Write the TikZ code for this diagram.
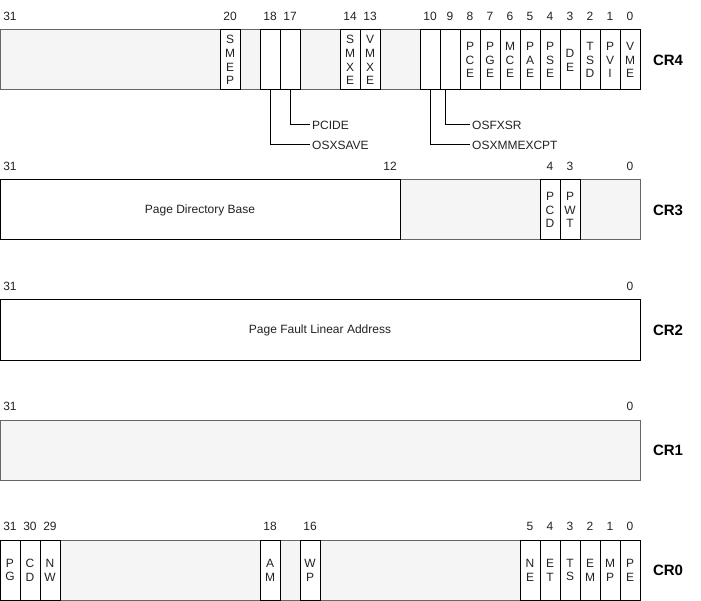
\documentclass[tikz,border=0pt]{standalone}
\usepackage{fontspec}
\setmainfont{Liberation Sans}
\definecolor{bgfill}{HTML}{F5F5F5}
\definecolor{bgline}{HTML}{666666}
\definecolor{txt}{HTML}{222222}
\tikzset{
  reg/.style={draw=bgline, fill=bgfill, line width=1pt, minimum height=60pt, inner sep=0pt, outer sep=0pt, anchor=north west, rectangle},
  wreg/.style={draw=black, fill=white, line width=1pt, minimum height=60pt, inner sep=0pt, outer sep=0pt, anchor=north west, rectangle, text=txt, font=\fontsize{12}{14}\selectfont},
  bitcell/.style={draw=black, fill=white, line width=1pt, minimum width=20pt, minimum height=60pt, inner sep=0pt, outer sep=0pt, anchor=north west, align=center, text=txt, font=\fontsize{12}{13.8}\selectfont},
  bitnum/.style={font=\fontsize{12}{14}\selectfont, inner sep=0pt, text=txt},
  crlabel/.style={font=\bfseries\fontsize{15}{17}\selectfont, inner sep=0pt},
  flaglabel/.style={font=\fontsize{12}{14}\selectfont, anchor=west, inner sep=0pt, text=txt},
  conn/.style={draw=black, line width=1pt}
}
\newcommand\bitbox[4]{\node[bitcell] (#1) at ({620-20*#2},#3) {#4};}
\newcommand\bitno[3]{\node[bitnum] (#1) at ({630-20*#2},#3) {#2};}
\begin{document}
\begin{tikzpicture}[x=1pt,y=-1pt]
\useasboundingbox (0,0) rectangle (701,601);

% ---------------- CR4 ----------------
\node[reg, minimum width=640pt] (cr4bg) at (0,30) {};
\bitbox{a20}{20}{30}{S\\M\\E\\P}
\bitbox{a18}{18}{30}{}
\bitbox{a17}{17}{30}{}
\bitbox{a14}{14}{30}{S\\M\\X\\E}
\bitbox{a13}{13}{30}{V\\M\\X\\E}
\bitbox{a10}{10}{30}{}
\bitbox{a9}{9}{30}{}
\bitbox{a8}{8}{30}{P\\C\\E}
\bitbox{a7}{7}{30}{P\\G\\E}
\bitbox{a6}{6}{30}{M\\C\\E}
\bitbox{a5}{5}{30}{P\\A\\E}
\bitbox{a4}{4}{30}{P\\S\\E}
\bitbox{a3}{3}{30}{D\\E}
\bitbox{a2}{2}{30}{T\\S\\D}
\bitbox{a1}{1}{30}{P\\V\\I}
\bitbox{a0}{0}{30}{V\\M\\E}
\foreach \b in {31,20,18,17,14,13,10,9,8,7,6,5,4,3,2,1,0} {\bitno{na\b}{\b}{16}}
\node[crlabel] (lcr4) at (668,60) {CR4};

\node[flaglabel] (pcide) at (312,125) {PCIDE};
\node[flaglabel] (osxsave) at (312,145) {OSXSAVE};
\node[flaglabel] (osfxsr) at (472,125) {OSFXSR};
\node[flaglabel] (osxmm) at (472,145) {OSXMMEXCPT};
\draw[conn] (a17.south) |- ([xshift=-2pt]pcide.west);
\draw[conn] (a18.south) |- ([xshift=-2pt]osxsave.west);
\draw[conn] ([xshift=-5pt]a9.south) |- ([xshift=-2pt]osfxsr.west);
\draw[conn] (a10.south) |- ([xshift=-2pt]osxmm.west);

% ---------------- CR3 ----------------
\node[reg, minimum width=240pt] (cr3bg) at (400,180) {};
\node[wreg, minimum width=400pt] (pdb) at (0,180) {Page Directory Base};
\bitbox{b4}{4}{180}{P\\C\\D}
\bitbox{b3}{3}{180}{P\\W\\T}
\foreach \b in {31,12,4,3,0} {\bitno{nb\b}{\b}{166}}
\node[crlabel] (lcr3) at (668,210) {CR3};

% ---------------- CR2 ----------------
\node[wreg, minimum width=640pt] (pfla) at (0,300) {Page Fault Linear Address};
\foreach \b in {31,0} {\bitno{nc\b}{\b}{286}}
\node[crlabel] (lcr2) at (668,330) {CR2};

% ---------------- CR1 ----------------
\node[reg, minimum width=640pt] (cr1bg) at (0,420) {};
\foreach \b in {31,0} {\bitno{nd\b}{\b}{406}}
\node[crlabel] (lcr1) at (668,450) {CR1};

% ---------------- CR0 ----------------
\node[reg, minimum width=640pt] (cr0bg) at (0,540) {};
\bitbox{e31}{31}{540}{P\\G}
\bitbox{e30}{30}{540}{C\\D}
\bitbox{e29}{29}{540}{N\\W}
\bitbox{e18}{18}{540}{A\\M}
\bitbox{e16}{16}{540}{W\\P}
\bitbox{e5}{5}{540}{N\\E}
\bitbox{e4}{4}{540}{E\\T}
\bitbox{e3}{3}{540}{T\\S}
\bitbox{e2}{2}{540}{E\\M}
\bitbox{e1}{1}{540}{M\\P}
\bitbox{e0}{0}{540}{P\\E}
\foreach \b in {31,30,29,18,16,5,4,3,2,1,0} {\bitno{ne\b}{\b}{526}}
\node[crlabel] (lcr0) at (668,570) {CR0};
\end{tikzpicture}
\end{document}
